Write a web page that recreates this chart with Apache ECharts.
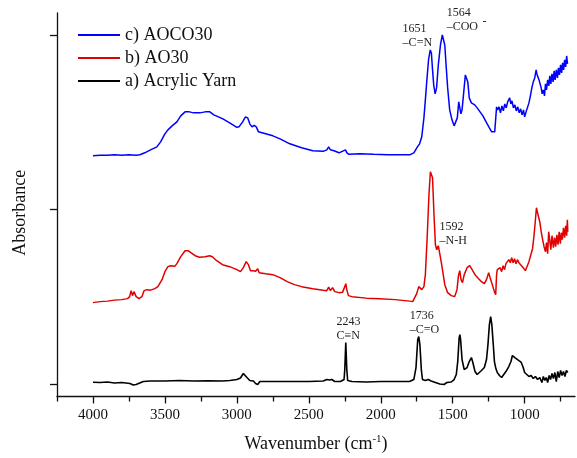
<!DOCTYPE html>
<html>
<head>
<meta charset="utf-8">
<script src="https://cdn.jsdelivr.net/npm/echarts@6.0.0/dist/echarts.min.js"></script>
<style>html,body{margin:0;padding:0;background:#fff;}#chart{width:577px;height:458px;}</style>
</head>
<body>
<div id="chart"></div>
<script>
// ---- data (wavenumber cm-1, absorbance in arbitrary offset units) ----
const xTickLabels = [4000, 3500, 3000, 2500, 2000, 1500, 1000];
const xMinorTicks = [4250, 3750, 3250, 2750, 2250, 1750, 1250, 750];
const yTicks = [12, 187, 362];

const wnA = [4000,3950,3900,3850,3800,3743,3720,3700,3650,3600,3500,3400,3300,3200,3100,3049,3000,2975,2955,2945,2930,2910,2885,2870,2855,2840,2700,2500,2400,2375,2355,2340,2320,2280,2255,2250,2243,2236,2230,2200,2100,2000,1900,1800,1770,1755,1743,1736,1728,1718,1710,1690,1670,1650,1620,1590,1560,1540,1510,1490,1475,1465,1455,1450,1445,1435,1420,1400,1385,1370,1360,1345,1330,1315,1300,1280,1265,1255,1245,1236,1228,1218,1210,1200,1190,1175,1160,1150,1130,1110,1095,1085,1078,1068,1055,1040,1025,1010,1000,985,970,955,940,925,910,895,880,870,860,850,840,830,820,810,800,790,780,770,760,750,740,730,720,710,700];
const absA = [14.3,14,14.5,13.5,14,13,11.5,12,15,15.5,15.5,16,15.5,15.8,15.5,16,17,18.5,23,22.5,19,16,15.5,13,12,15,15,15,15.5,17,16.5,17,15,15,17,27,54,27,16,15,14.5,15,15,15,17,29,57,60,52,27,17,16,17,15.5,14,12.5,12,14,14.5,17,22,35,59,62,57,37,27,29,35,39,34,25,22,24,26,29,37,52,72,80,72,52,35,28,24,21,19,20,25,30,35,41,43,39,37,36,34.5,29,24,22,20,21,18,20,17,19,14,20,16,19,14,21,17,23,18,24,15,25,19,26,21,25,20,26,24];

const wnB = [4000,3950,3900,3850,3800,3760,3745,3735,3725,3715,3700,3680,3660,3645,3635,3625,3600,3570,3549,3520,3500,3479,3460,3430,3417,3390,3360,3340,3320,3290,3260,3220,3190,3170,3140,3100,3050,3000,2975,2955,2935,2920,2905,2885,2870,2855,2845,2800,2750,2700,2650,2600,2550,2472,2400,2375,2362,2350,2335,2320,2290,2265,2250,2243,2236,2225,2200,2100,2007,1900,1800,1778,1765,1750,1736,1725,1715,1700,1690,1678,1665,1655,1648,1640,1630,1620,1611,1600,1592,1580,1569,1555,1535,1510,1486,1470,1460,1451,1442,1432,1420,1400,1382,1365,1345,1326,1300,1280,1265,1250,1240,1225,1210,1201,1195,1190,1180,1170,1160,1150,1140,1130,1120,1110,1100,1090,1080,1070,1060,1050,1040,1030,1010,995,985,970,955,945,935,925,918,912,905,895,885,875,865,855,848,840,833,826,818,810,800,792,784,776,768,760,752,745,738,730,722,715,708,703,700];
const absB = [94,95,95.5,96.5,97,98,100,106,101,105,100,98,100,106,104,107,106.5,108,110,117,125,130,131,130.5,133,140,146,146,144,141,139.5,140,141,140,136,132,130,127,125,129,135,132,126,126,125.5,128,124,123,122,119,115,112,110,108,106.5,106,109.5,106,109,105,104,104.5,110,113,107,101,100,98.5,98,97,95.5,95,96,103,110,109,107,110,122,157,202,225,227,219,182,152,147,151,149,135,125,112,104,101,100,107,121,126,117,114,122,129,131,127,122,119,115,113,117,124,119,112,105,102,122,127,125,129,125,131,127,133,131,137,134,139,134,138,133,137,134,135,129,126,127,135,143,148,161,177,189,185,183,175,165,157,150,145,154,143,165,157,147,161,149,159,150,162,152,165,153,164,157,169,159,171,161,177,165];

const wnC = [4000,3950,3900,3850,3800,3750,3700,3674,3640,3600,3556,3530,3500,3479,3450,3417,3390,3360,3330,3300,3257,3220,3188,3160,3120,3097,3050,3000,2985,2960,2940,2925,2910,2895,2880,2865,2850,2800,2750,2700,2632,2550,2472,2400,2375,2362,2350,2338,2325,2290,2260,2245,2235,2220,2146,2050,1950,1850,1799,1770,1745,1730,1715,1700,1690,1681,1668,1656,1648,1640,1632,1622,1612,1600,1585,1572,1564,1555,1545,1535,1521,1505,1490,1479,1468,1458,1451,1443,1435,1425,1412,1403,1395,1385,1370,1347,1330,1310,1290,1264,1245,1229,1208,1200,1195,1188,1178,1168,1158,1148,1138,1128,1118,1110,1104,1096,1088,1078,1068,1058,1048,1038,1028,1018,1008,1000,990,980,970,960,950,940,930,920,915,908,900,892,885,878,870,862,855,848,840,832,825,818,810,802,795,788,780,772,765,758,750,743,736,729,722,715,708,702];
const absC = [241,241.5,241.5,242,241.5,242,241.5,242,244,247,250,255,263,267,271,275,281,285,285,284,284,285,285,282,279.5,278,274,269.5,270,275,280,279,273,270,271.5,270,265,263,261,258,253,249,246,245.5,247,250,247,248.5,246,244,246,247,244,242.5,243,242.5,242,242,242,244,250,253,260,279,297,314,337,347,344,327,312,303,309,332,352,362,363,352,330,309,287,277,271,269,279,295,294,283,287,302,322,324,315,299,294,292,289,285,281,274,269,265,265,267,290,287,290,284,291,286,293,289,295,293,299,293,296,289,292,286,290,284,288,282,287,280,285,287,294,301,309,315,319,327,323,325,317,319,309,303,307,301,313,307,317,311,321,313,323,315,326,317,327,319,329,322,332,324,334,327,337,330,341,333];

const seriesNames = ['c) AOCO30', 'b) AO30', 'a) Acrylic Yarn'];

const annoText = ['1651\n–C=N', '1564\n–COO', '-', '1592\n–N-H', '2243\nC≡N', '1736\n–C=O'];
const annoWn = [1848, 1542, 1292, 1591, 2307, 1799];
const annoVal = [375, 391, 382, 177, 82, 88];

// ---- chart ----
const FONT = '"Liberation Serif", "Times New Roman", serif';
const pair = (w, a) => w.map((x, i) => [x, a[i]]);
const chart = echarts.init(document.getElementById('chart'), null, {renderer: 'canvas'});

const lineSeries = (name, data, color, w) => ({
  name, type: 'line', data, symbol: 'none', showSymbol: false,
  lineStyle: {color, width: w}, itemStyle: {color}, animation: false, z: 3
});

chart.setOption({
  animation: false,
  backgroundColor: '#fff',
  textStyle: {fontFamily: FONT},
  grid: {left: 57, right: 2, top: 13, bottom: 61, containLabel: false},
  legend: {
    orient: 'vertical', left: 78, top: 26, itemGap: 5, padding: 0,
    itemWidth: 42, itemHeight: 2, icon: 'rect',
    textStyle: {fontFamily: FONT, fontSize: 18, color: '#111'},
    data: seriesNames
  },
  xAxis: [{
    type: 'value', inverse: true, min: 650, max: 4250,
    position: 'bottom',
    axisLine: {show: true, lineStyle: {color: '#111', width: 1.3}},
    axisTick: {show: true, inside: false, length: 7, customValues: xTickLabels, lineStyle: {color: '#111', width: 1.3}},
    axisLabel: {show: true, customValues: xTickLabels, margin: 11, fontFamily: FONT, fontSize: 15, color: '#111',
      formatter: v => String(v)},
    splitLine: {show: false},
    name: 'Wavenumber (cm{sup|-1})',
    nameLocation: 'middle', nameGap: 37,
    nameTextStyle: {fontFamily: FONT, fontSize: 18, color: '#111',
      rich: {sup: {fontFamily: FONT, fontSize: 11, color: '#111', padding: [0, 0, 10, 0]}}}
  }, {
    type: 'value', inverse: true, min: 650, max: 4250,
    position: 'bottom', offset: 0,
    axisLine: {show: false},
    axisTick: {show: true, inside: false, length: 5, customValues: xMinorTicks, lineStyle: {color: '#111', width: 1.3}},
    axisLabel: {show: false},
    splitLine: {show: false}
  }],
  yAxis: {
    type: 'value', min: 0, max: 384,
    axisLine: {show: true, lineStyle: {color: '#111', width: 1.3}},
    axisTick: {show: true, inside: false, length: 7, customValues: yTicks, lineStyle: {color: '#111', width: 1.3}},
    axisLabel: {show: false},
    splitLine: {show: false},
    name: 'Absorbance', nameLocation: 'middle', nameGap: 28,
    nameTextStyle: {fontFamily: FONT, fontSize: 18, color: '#111', padding: [0, 16, 0, 0]}
  },
  series: [
    lineSeries(seriesNames[0], pair(wnC, absC), '#0000ff', 1.5),
    lineSeries(seriesNames[1], pair(wnB, absB), '#e00000', 1.5),
    lineSeries(seriesNames[2], pair(wnA, absA), '#000000', 1.6)
  ]
});

const graphics = annoText.map((t, i) => {
  const p = chart.convertToPixel({xAxisIndex: 0, yAxisIndex: 0}, [annoWn[i], annoVal[i]]);
  return {
    type: 'text', x: p[0], y: p[1], z: 10,
    style: {text: t, fontFamily: FONT, fontSize: 12, lineHeight: 14, fill: '#222', align: 'left', verticalAlign: 'top'}
  };
});
chart.setOption({graphic: graphics});
</script>
</body>
</html>
